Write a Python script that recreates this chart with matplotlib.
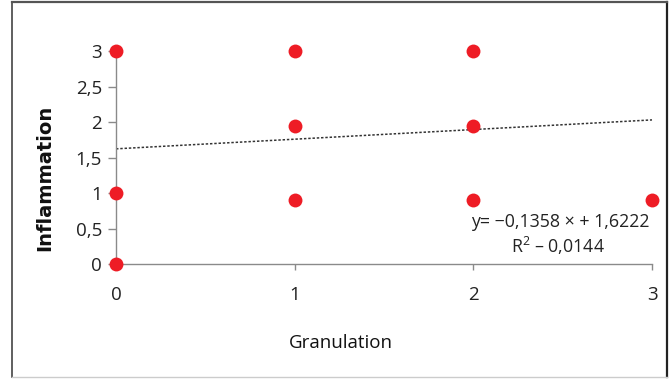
import matplotlib
matplotlib.use("Agg")
import matplotlib.pyplot as plt
from matplotlib.lines import Line2D
import numpy as np

granulation = [0, 0, 0, 1, 1, 1, 2, 2, 2, 3]
inflammation = [3, 1, 0, 3, 1.95, 0.9, 3, 1.95, 0.9, 0.9]
trend_slope = 0.1358
trend_intercept = 1.6222
x_ticks = [0, 1, 2, 3]
y_ticks = [0, 0.5, 1, 1.5, 2, 2.5, 3]
y_tick_labels = ["0", "0,5", "1", "1,5", "2", "2,5", "3"]
equation_text = "y= \u22120,1358 \u00d7 + 1,6222"
r2_text = "R$^2$ \u2013 0,0144"

plt.rcParams["font.family"] = ["Open Sans", "DejaVu Sans"]
plt.rcParams["mathtext.fontset"] = "custom"
plt.rcParams["mathtext.rm"] = "Open Sans"

fig = plt.figure(figsize=(6.69, 3.79), dpi=100)

# outer frame
fig.add_artist(Line2D([0.018, 0.018], [0.005, 0.995], transform=fig.transFigure, color="#444444", lw=1.2))
fig.add_artist(Line2D([0.997, 0.997], [0.005, 0.995], transform=fig.transFigure, color="#222222", lw=1.6))
fig.add_artist(Line2D([0.018, 0.997], [0.994, 0.994], transform=fig.transFigure, color="#555555", lw=1.6))
fig.add_artist(Line2D([0.018, 0.997], [0.006, 0.006], transform=fig.transFigure, color="#cccccc", lw=1.0))

ax = fig.add_axes([0.1734, 0.3034, 0.8012, 0.562])
ax.set_xlim(0, 3)
ax.set_ylim(0, 3)

xs = np.array([0, 3])
ax.plot(xs, trend_intercept + trend_slope * xs, linestyle=(0, (1.6, 1.2)),
        color="#333333", lw=1.1, zorder=2, clip_on=False)

ax.scatter(granulation, inflammation, s=100, color="#EE1C25", zorder=3,
           clip_on=False, linewidths=0)

for side in ["top", "right"]:
    ax.spines[side].set_visible(False)
for side in ["left", "bottom"]:
    ax.spines[side].set_color("#8a8a8a")
    ax.spines[side].set_linewidth(1.0)

ax.set_xticks(x_ticks)
ax.set_xticklabels([str(t) for t in x_ticks])
ax.set_yticks(y_ticks)
ax.set_yticklabels(y_tick_labels)
ax.tick_params(axis="both", colors="#8a8a8a", labelcolor="#222222",
               labelsize=13.5, width=1.0)
ax.tick_params(axis="y", length=6, pad=4)
ax.tick_params(axis="x", length=4, pad=12)

# axis titles placed in figure pixels
fig.text(45 / 669, 1 - 178 / 379, "Inflammation", rotation=90, ha="center",
         va="center", fontsize=14, fontweight="bold", family=["DejaVu Sans"],
         color="#111111")
fig.text(341 / 669, 1 - 343 / 379, "Granulation", ha="center", va="center",
         fontsize=13.5, color="#111111")

ax.text(2.985, 0.59, equation_text, ha="right", va="center", fontsize=12.8,
        color="#222222")
ax.text(2.475, 0.26, r2_text, ha="center", va="center", fontsize=12.8,
        color="#222222")

fig.savefig("out.png", dpi=100)
